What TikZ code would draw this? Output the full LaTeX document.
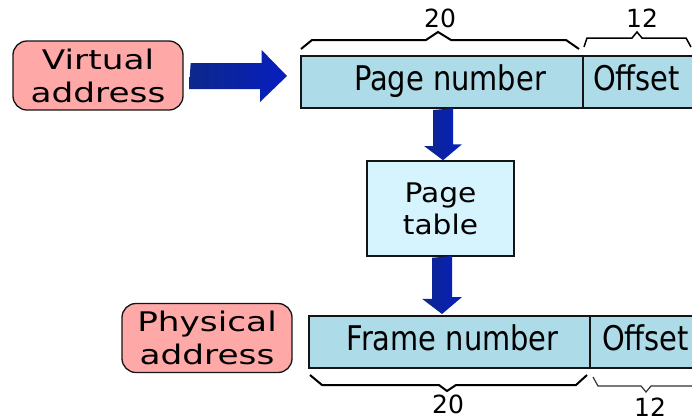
\documentclass[tikz,border=0pt]{standalone}
\usepackage{fontspec}
\setmainfont{DejaVu Sans}
\newfontfamily\fwide[FakeStretch=1.27]{DejaVu Sans}
\newfontfamily\fcond[FakeStretch=0.85]{DejaVu Sans}
\newfontfamily\fpt[FakeStretch=1.1]{DejaVu Sans}
\usetikzlibrary{calc}
\definecolor{pinkfill}{RGB}{255,168,168}
\definecolor{fieldfill}{RGB}{173,220,232}
\definecolor{tablefill}{RGB}{214,244,253}
\definecolor{arrowdark}{RGB}{12,40,138}
\definecolor{arrowbright}{RGB}{8,30,192}
\definecolor{edge}{RGB}{20,20,20}
\begin{document}
\begin{tikzpicture}[x=1pt,y=-1pt,
 addr/.style={draw=edge, line width=1.3pt, fill=pinkfill, rounded corners=14pt, minimum width=170pt, minimum height=69pt, inner sep=0pt, align=center, font={\fwide\fontsize{27}{33}\selectfont}},
 field/.style={draw=edge, line width=2pt, fill=fieldfill, minimum height=52pt, inner sep=0pt, text height=25pt, text depth=8pt, font={\fcond\fontsize{34}{40}\selectfont}},
 ptable/.style={draw=edge, line width=1.5pt, fill=tablefill, minimum width=147pt, minimum height=95pt, inner sep=0pt, align=center, font={\fpt\fontsize{27}{32}\selectfont}},
 bluearrow/.style={left color=arrowdark, right color=arrowbright},
 bracebig/.style={draw=black, line width=2pt, line join=miter},
 bracemid/.style={draw=black, line width=1.5pt},
 bracesmall/.style={draw=black!80, line width=1.2pt},
 bits/.style={font={\fontsize{25}{30}\selectfont}, inner sep=0pt, anchor=base}
]
\useasboundingbox (0,0) rectangle (692,418);
\clip (0,0) rectangle (692,418);

% nodes
\node[addr] (va) at (98,75.5) {Virtual\\address};
\node[field, minimum width=282pt] (pn) at (442,82) {\hspace*{16pt}Page number};
\node[field, minimum width=111pt] (po) at (638.5,82) {Offset\hspace*{4pt}};
\node[ptable] (pt) at (440.5,208.5) {Page\\table};
\node[addr] (pa) at (207,338) {Physical\\address};
\node[field, minimum width=281pt] (fn) at (449.5,342) {\hspace*{6pt}Frame number};
\node[field, minimum width=111pt] (fo) at (645.5,342) {Offset};

% right block arrow
\coordinate (r0) at ($(va.east)+(7,0.5)$);
\coordinate (r1) at ($(pn.west)+(-13,-6)$);
\path[bluearrow] ($(r0)+(0,-13)$) -- ++(71,0) -- ++(0,-13) -- (r1) -- ++(-27,26) -- ++(0,-13) -- ++(-71,0) -- cycle;

% down block arrows
\coordinate (d0) at ($(pn.south)+(1,1)$);
\coordinate (d1) at (d0 |- pt.north);
\path[bluearrow] ($(d0)+(-10,0)$) -- ++(0,36) -- ++(-9,0) -- (d1) -- ++(19,-16) -- ++(-9,0) -- ++(0,-36) -- cycle;
\coordinate (d2) at ($(pt.south)+(1.5,1)$);
\coordinate (d3) at ($(d2 |- fn.north)+(0,-1)$);
\path[bluearrow] ($(d2)+(-10,0)$) -- ++(0,41) -- ++(-10,0) -- (d3) -- ++(20,-17) -- ++(-10,0) -- ++(0,-41) -- cycle;

% braces
\draw[bracebig] ([shift={(1,-6)}]pn.north west) -- ++(11,-9) -- ++(114,0) -- ++(12,-8) -- ++(13,8) -- ++(115,0) -- ++(13,9);
\draw[bracemid] ([shift={(2,-8)}]po.north west) -- ++(3,-9) -- ++(45,0) -- ++(5,-6) -- ++(5,6) -- ++(44,0) -- ++(5,9);
\draw[bracebig] ([shift={(2,6)}]fn.south west) -- ++(12,10) -- ++(117,0) -- ++(8,6) -- ++(9,-6) -- ++(120,0) -- ++(11,-10);
\draw[bracesmall] ([shift={(4,8)}]fo.south west) -- ++(5,9) -- ++(43,0) -- ++(5,6) -- ++(5,-6) -- ++(50,0);

% bit counts
\node[bits] (b20t) at (440,27) {20};
\node[bits] (b12t) at (642,27) {12};
\node[bits] (b20b) at (448,413) {20};
\node[bits] (b12b) at (650,416) {12};
\end{tikzpicture}
\end{document}
